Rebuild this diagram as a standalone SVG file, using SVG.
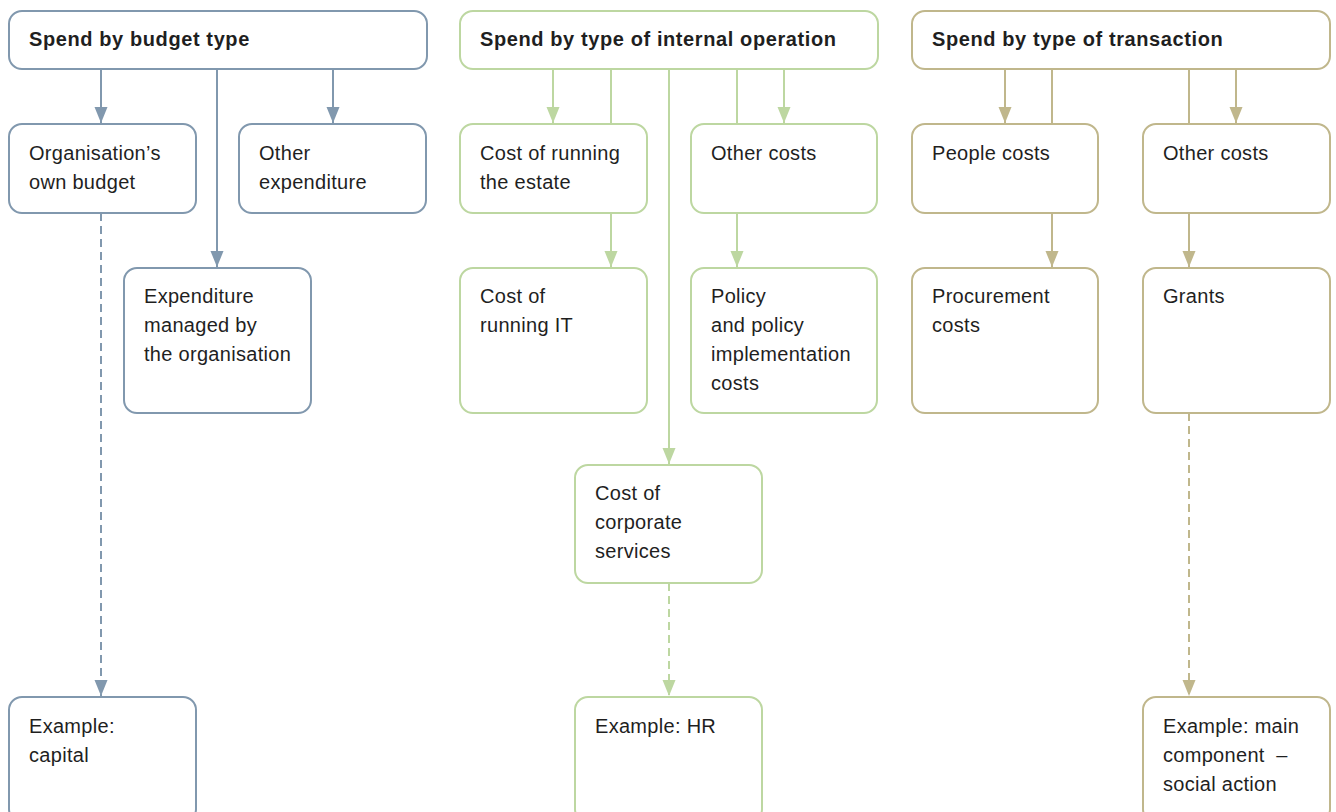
<svg xmlns="http://www.w3.org/2000/svg" width="1336" height="812" viewBox="0 0 1336 812">
<style>
  text { font-family: "Liberation Sans", Arial, sans-serif; font-size: 20px; fill: #1f1f1f; letter-spacing: 0.3px; }
  .h { font-weight: bold; font-size: 20px; letter-spacing: 0.6px; }
  .box { fill: #ffffff; stroke-width: 2; }
  .b { stroke: #8198ae; }
  .g { stroke: #bdd7a1; }
  .t { stroke: #c0b78c; }
  .ln { fill: none; stroke-width: 2; }
  .d { stroke-dasharray: 8 5; }
</style>
<defs>
  <marker id="ab" markerUnits="userSpaceOnUse" markerWidth="16" markerHeight="14" refX="16" refY="7" orient="auto"><path d="M0,0.5 L16,7 L0,13.5 z" fill="#8198ae"/></marker>
  <marker id="ag" markerUnits="userSpaceOnUse" markerWidth="16" markerHeight="14" refX="16" refY="7" orient="auto"><path d="M0,0.5 L16,7 L0,13.5 z" fill="#bdd7a1"/></marker>
  <marker id="at" markerUnits="userSpaceOnUse" markerWidth="16" markerHeight="14" refX="16" refY="7" orient="auto"><path d="M0,0.5 L16,7 L0,13.5 z" fill="#c0b78c"/></marker>
</defs>
<rect width="1336" height="812" fill="#ffffff"/>
<g id="connectors">
  <path class="ln b" d="M101,69 V123" marker-end="url(#ab)"/>
  <path class="ln b" d="M217,69 V267" marker-end="url(#ab)"/>
  <path class="ln b" d="M333,69 V123" marker-end="url(#ab)"/>
  <path class="ln b d" d="M101,213 V696" marker-end="url(#ab)"/>
  <path class="ln g" d="M553,69 V123" marker-end="url(#ag)"/>
  <path class="ln g" d="M611,69 V267" marker-end="url(#ag)"/>
  <path class="ln g" d="M669,69 V464" marker-end="url(#ag)"/>
  <path class="ln g" d="M737,69 V267" marker-end="url(#ag)"/>
  <path class="ln g" d="M784,69 V123" marker-end="url(#ag)"/>
  <path class="ln g d" d="M669,583 V696" marker-end="url(#ag)"/>
  <path class="ln t" d="M1005,69 V123" marker-end="url(#at)"/>
  <path class="ln t" d="M1052,69 V267" marker-end="url(#at)"/>
  <path class="ln t" d="M1189,69 V267" marker-end="url(#at)"/>
  <path class="ln t" d="M1236,69 V123" marker-end="url(#at)"/>
  <path class="ln t d" d="M1189,413 V696" marker-end="url(#at)"/>
</g>
<g id="n-budget-type"><rect class="box b" x="9" y="11" width="418" height="58" rx="13"/><text class="h" x="29" y="46">Spend by budget type</text></g>
<g id="n-own-budget"><rect class="box b" x="9" y="124" width="187" height="89" rx="13"/><text x="29" y="160">Organisation’s</text><text x="29" y="189">own budget</text></g>
<g id="n-other-expenditure"><rect class="box b" x="239" y="124" width="187" height="89" rx="13"/><text x="259" y="160">Other</text><text x="259" y="189">expenditure</text></g>
<g id="n-managed"><rect class="box b" x="124" y="268" width="187" height="145" rx="13"/><text x="144" y="303">Expenditure</text><text x="144" y="332">managed by</text><text x="144" y="361">the organisation</text></g>
<g id="n-capital"><rect class="box b" x="9" y="697" width="187" height="125" rx="13"/><text x="29" y="733">Example:</text><text x="29" y="762">capital</text></g>

<g id="n-internal-operation"><rect class="box g" x="460" y="11" width="418" height="58" rx="13"/><text class="h" x="480" y="46">Spend by type of internal operation</text></g>
<g id="n-estate"><rect class="box g" x="460" y="124" width="187" height="89" rx="13"/><text x="480" y="160">Cost of running</text><text x="480" y="189">the estate</text></g>
<g id="n-other-costs-g"><rect class="box g" x="691" y="124" width="186" height="89" rx="13"/><text x="711" y="160">Other costs</text></g>
<g id="n-it"><rect class="box g" x="460" y="268" width="187" height="145" rx="13"/><text x="480" y="303">Cost of</text><text x="480" y="332">running IT</text></g>
<g id="n-policy"><rect class="box g" x="691" y="268" width="186" height="145" rx="13"/><text x="711" y="303">Policy</text><text x="711" y="332">and policy</text><text x="711" y="361">implementation</text><text x="711" y="390">costs</text></g>
<g id="n-corporate"><rect class="box g" x="575" y="465" width="187" height="118" rx="13"/><text x="595" y="500">Cost of</text><text x="595" y="529">corporate</text><text x="595" y="558">services</text></g>
<g id="n-hr"><rect class="box g" x="575" y="697" width="187" height="125" rx="13"/><text x="595" y="733">Example: HR</text></g>

<g id="n-transaction"><rect class="box t" x="912" y="11" width="418" height="58" rx="13"/><text class="h" x="932" y="46">Spend by type of transaction</text></g>
<g id="n-people"><rect class="box t" x="912" y="124" width="186" height="89" rx="13"/><text x="932" y="160">People costs</text></g>
<g id="n-other-costs-t"><rect class="box t" x="1143" y="124" width="187" height="89" rx="13"/><text x="1163" y="160">Other costs</text></g>
<g id="n-procurement"><rect class="box t" x="912" y="268" width="186" height="145" rx="13"/><text x="932" y="303">Procurement</text><text x="932" y="332">costs</text></g>
<g id="n-grants"><rect class="box t" x="1143" y="268" width="187" height="145" rx="13"/><text x="1163" y="303">Grants</text></g>
<g id="n-social-action"><rect class="box t" x="1143" y="697" width="187" height="125" rx="13"/><text x="1163" y="733">Example: main</text><text x="1163" y="762">component &#160;–</text><text x="1163" y="791">social action</text></g>
</svg>
